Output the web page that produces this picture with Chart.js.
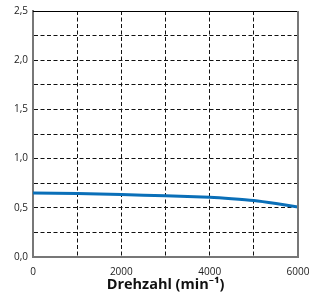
<!DOCTYPE html>
<html>
<head>
<meta charset="utf-8">
<script src="https://cdn.jsdelivr.net/npm/chart.js@4/dist/chart.umd.min.js"></script>
<style>
  html, body { margin: 0; padding: 0; background: #fff; }
  #wrap { width: 310px; height: 302px; }
</style>
</head>
<body>
<div id="wrap"><canvas id="drehzahlChart"></canvas></div>
<script>
// Daten
const drehzahl = [0, 1000, 2000, 3000, 4000, 4500, 5000, 5500, 6000];
const werte = [0.65, 0.645, 0.635, 0.622, 0.607, 0.593, 0.574, 0.543, 0.507];
const xTicks = [0, 2000, 4000, 6000];
const yTicks = [0, 0.5, 1.0, 1.5, 2.0, 2.5];

// Rahmen oben und rechts
const rahmen = {
    id: 'rahmen',
    afterDraw(chart) {
        const { ctx, chartArea: a } = chart;
        ctx.save();
        ctx.strokeStyle = '#000';
        ctx.lineWidth = 1;
        ctx.beginPath();
        ctx.moveTo(a.left, a.top + 0.5);
        ctx.lineTo(a.right, a.top + 0.5);
        ctx.stroke();
        ctx.strokeStyle = '#777';
        ctx.lineWidth = 2;
        ctx.beginPath();
        ctx.moveTo(a.right, a.top);
        ctx.lineTo(a.right, a.bottom);
        ctx.stroke();
        ctx.restore();
    }
};

const fontName = '"Open Sans", "Noto Sans", sans-serif';

new Chart(document.getElementById('drehzahlChart'), {
    type: 'line',
    data: {
        datasets: [{
            data: drehzahl.map((x, i) => ({ x: x, y: werte[i] })),
            borderColor: '#0a6fb8',
            borderWidth: 3,
            pointRadius: 0,
            tension: 0.2,
            fill: false
        }]
    },
    options: {
        responsive: true,
        maintainAspectRatio: false,
        animation: false,
        layout: { padding: { top: 9, right: 12, left: 0, bottom: 8 } },
        plugins: {
            legend: { display: false },
            tooltip: { enabled: false }
        },
        scales: {
            x: {
                type: 'linear',
                min: 0,
                max: 6000,
                afterBuildTicks(scale) {
                    scale.ticks = [0, 1000, 2000, 3000, 4000, 5000, 6000].map(v => ({ value: v }));
                },
                afterFit(scale) {
                    scale.height = 37;
                    scale.paddingLeft = 0;
                    scale.paddingRight = 0;
                },
                ticks: {
                    autoSkip: false,
                    maxRotation: 0,
                    padding: 9,
                    color: '#222',
                    font: { family: fontName, size: 10 },
                    callback: (v) => xTicks.includes(v) ? String(v) : ''
                },
                grid: {
                    color: '#111',
                    lineWidth: 1,
                    drawTicks: false
                },
                border: { color: '#777', width: 2, dash: [4, 2.5] },
                title: {
                    display: true,
                    text: 'Drehzahl (min⁻¹)',
                    color: '#111',
                    padding: { top: 2, bottom: 0 },
                    font: { family: fontName, size: 14.5, weight: 'bold' }
                }
            },
            y: {
                min: 0,
                max: 2.5,
                afterBuildTicks(scale) {
                    const t = [];
                    for (let i = 0; i <= 10; i++) t.push({ value: i * 0.25 });
                    scale.ticks = t;
                },
                afterFit(scale) { scale.width = 33; },
                ticks: {
                    autoSkip: false,
                    padding: 5,
                    color: '#222',
                    font: { family: fontName, size: 10 },
                    callback: (v) => {
                        const hit = yTicks.find(t => Math.abs(t - v) < 1e-6);
                        return hit === undefined ? '' : hit.toFixed(1).replace('.', ',');
                    }
                },
                grid: {
                    color: '#111',
                    lineWidth: 1,
                    drawTicks: false
                },
                border: { color: '#777', width: 2, dash: [4, 2.5] }
            }
        }
    },
    plugins: [rahmen]
});
</script>
</body>
</html>
